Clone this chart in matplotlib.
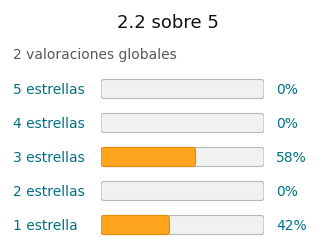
import matplotlib
matplotlib.use("Agg")
import matplotlib.pyplot as plt
from matplotlib.patches import FancyBboxPatch
from matplotlib.transforms import blended_transform_factory

# data
title = "2.2 sobre 5"
subtitle = "2 valoraciones globales"
labels = ["1 estrella", "2 estrellas", "3 estrellas", "4 estrellas", "5 estrellas"]
percents = [42, 0, 58, 0, 0]

teal = "#007185"
orange = "#ffa41c"

fig = plt.figure(figsize=(3.2, 2.52), dpi=100)
ax = fig.add_axes([101 / 320, 10 / 252, 163 / 320, 170 / 252])
ax.set_xlim(0, 100)
ax.set_ylim(-0.5, len(labels) - 0.5)
ax.axis("off")

ypos = list(range(len(labels)))
h = 0.56

bg = ax.barh(ypos, [100] * len(labels), height=h, color="none")
fg = ax.barh(ypos, percents, height=h, color="none")

# replace plain rectangles with rounded ones
aspect = (170 / 5) / (163 / 100)
for bars, face, edge in [(bg, "#f0f2f2", "#b5b8b8"), (fg, orange, "#e08b0a")]:
    for r in bars:
        if r.get_width() <= 0:
            continue
        p = FancyBboxPatch((r.get_x(), r.get_y()), r.get_width(), r.get_height(),
                           boxstyle="round,pad=0,rounding_size=2",
                           mutation_aspect=1 / aspect,
                           facecolor=face, edgecolor=edge, linewidth=0.8)
        ax.add_patch(p)

tr = blended_transform_factory(fig.transFigure, ax.transData)
for y, lab, pct in zip(ypos, labels, percents):
    ax.text(13 / 320, y, lab, transform=tr, ha="left", va="center_baseline",
            fontsize=10, color=teal)
    ax.text(276 / 320, y, f"{pct}%", transform=tr, ha="left", va="center_baseline",
            fontsize=10, color=teal)

fig.text(168 / 320, 1 - 28 / 252, title, ha="center", va="baseline",
         fontsize=13, color="#0f1111")
fig.text(13 / 320, 1 - 59 / 252, subtitle, ha="left", va="baseline",
         fontsize=10, color="#565959")

fig.savefig("out.png", dpi=100)
